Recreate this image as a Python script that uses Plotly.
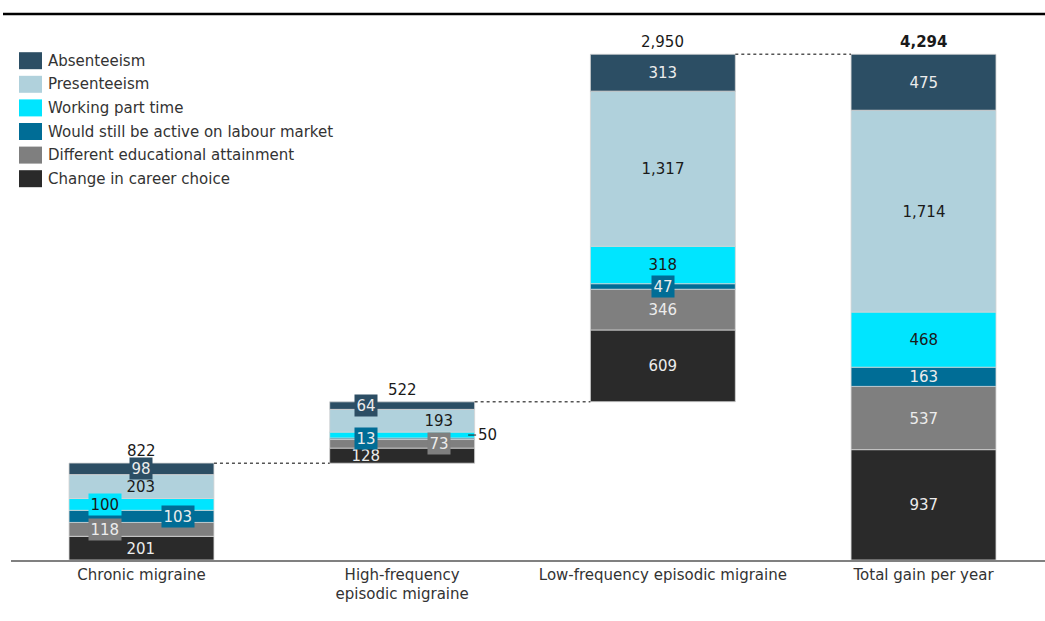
import plotly.graph_objects as go

# ---------------- data ----------------
categories = ["Chronic migraine", "High-frequency<br>episodic migraine",
              "Low-frequency episodic migraine", "Total gain per year"]
series_names = ["Change in career choice", "Different educational attainment",
                "Would still be active on labour market", "Working part time",
                "Presenteeism", "Absenteeism"]
change_in_career = [201, 128, 609, 937]
educational_attainment = [118, 73, 346, 537]
active_labour_market = [103, 13, 47, 163]
working_part_time = [100, 50, 318, 468]
presenteeism = [203, 193, 1317, 1714]
absenteeism = [98, 64, 313, 475]
totals = [822, 522, 2950, 4294]
total_labels = ["822", "522", "2,950", "4,294"]

series_values = [change_in_career, educational_attainment, active_labour_market,
                 working_part_time, presenteeism, absenteeism]

# ---------------- style ----------------
colors = ["#2a2a2a", "#7f7f7f", "#006d96", "#00e5ff", "#b0d1dc", "#2c4e64"]
text_colors = ["#ececec", "#ececec", "#ececec", "#1a1a1a", "#1a1a1a", "#ececec"]
# label horizontal offsets (-1 left, 0 centre, 1 right), per category, per series
label_offsets = [[0, -1, 1, -1, 0, 0],
                 [-1, 1, -1, None, 1, -1],
                 [0, 0, 0, 0, 0, 0],
                 [0, 0, 0, 0, 0, 0]]
label_boxed = [[False, True, True, True, False, True],
               [False, True, True, False, False, True],
               [False, False, True, False, False, False],
               [False, False, False, False, False, False]]
FONT = "DejaVu Sans"
LABEL_SIZE = 15
BAR_W = 0.556
OFF = 0.14

W, H = 1045, 621
ML, MR, MT, MB = 11, 0, 14, 61
PW, PH = W - ML - MR, H - MT - MB

xs = list(range(len(categories)))
n = len(categories)
cat_base = [sum(totals[:i]) if i < n - 1 else 0 for i in range(n)]

fig = go.Figure()
annotations = []
shapes = []

running = list(cat_base)
for s, (name, vals) in enumerate(zip(series_names, series_values)):
    bases = list(running)
    fig.add_trace(go.Bar(
        x=xs, y=vals, base=bases, name=name, width=BAR_W,
        marker=dict(color=colors[s], line=dict(color="#d4d4d4", width=0.8)),
        hoverinfo="skip"))
    for i in range(n):
        v = vals[i]
        yc = bases[i] + v / 2
        off = label_offsets[i][s]
        if off is None:
            annotations.append(dict(
                x=i + 0.253, y=yc, xref="x", yref="y", text=f"{v:,}",
                showarrow=True, arrowhead=0, arrowwidth=1, arrowcolor="#1a1a1a",
                ax=19, ay=0, standoff=0,
                font=dict(family=FONT, size=LABEL_SIZE, color="#1a1a1a")))
            continue
        ann = dict(x=i + off * OFF, y=yc, xref="x", yref="y", text=f"{v:,}",
                   showarrow=False, xanchor="center", yanchor="middle",
                   font=dict(family=FONT, size=LABEL_SIZE, color=text_colors[s]),
                   borderpad=1.5)
        if label_boxed[i][s]:
            ann["bgcolor"] = colors[s]
        annotations.append(ann)
    running = [running[i] + vals[i] for i in range(n)]

# totals above bars
for i in range(n):
    top = cat_base[i] + totals[i]
    bold = i == n - 1
    annotations.append(dict(
        x=i, y=top, xref="x", yref="y",
        text=f"<b>{total_labels[i]}</b>" if bold else total_labels[i],
        showarrow=False, xanchor="center", yanchor="bottom", yshift=1,
        font=dict(family=FONT, size=15, color="#1a1a1a")))

# dotted connectors
for i in range(n - 1):
    y = cat_base[i] + totals[i]
    shapes.append(dict(type="line", xref="x", yref="y",
                       x0=i + BAR_W / 2, x1=i + 1 - BAR_W / 2, y0=y, y1=y,
                       line=dict(color="#555555", width=1.5, dash="dot")))

# custom legend (top to bottom)
leg_top = 60.7
leg_step = 23.6
for k, s in enumerate(reversed(range(len(series_names)))):
    yc = leg_top + k * leg_step
    shapes.append(dict(type="rect", xref="paper", yref="paper",
                       x0=(19 - ML) / PW, x1=(42 - ML) / PW,
                       y0=(MT + PH - (yc + 8.5)) / PH, y1=(MT + PH - (yc - 8.5)) / PH,
                       fillcolor=colors[s], line=dict(width=0)))
    annotations.append(dict(x=(46 - ML) / PW, y=(MT + PH - yc) / PH,
                            xref="paper", yref="paper", text=series_names[s],
                            showarrow=False, xanchor="left", yanchor="middle",
                            font=dict(family=FONT, size=15, color="#333333")))

# top rule
shapes.append(dict(type="line", xref="paper", yref="paper",
                   x0=(3 - ML) / PW, x1=1, y0=1.0, y1=1.0,
                   line=dict(color="#000000", width=2.5)))

fig.update_layout(
    width=W, height=H,
    margin=dict(l=ML, r=MR, t=MT, b=MB, pad=0),
    paper_bgcolor="white", plot_bgcolor="white",
    barmode="overlay", showlegend=False,
    font=dict(family=FONT, size=15, color="#333333"),
    xaxis=dict(tickmode="array", tickvals=xs, ticktext=categories,
               range=[-0.5006, 3.466], showgrid=False, zeroline=False,
               showline=True, linecolor="#808080", linewidth=1.5, ticks="",
               tickfont=dict(family=FONT, size=15, color="#333333")),
    yaxis=dict(visible=False, range=[0, 4636]),
    annotations=annotations, shapes=shapes,
)

fig.write_html("out.html")
